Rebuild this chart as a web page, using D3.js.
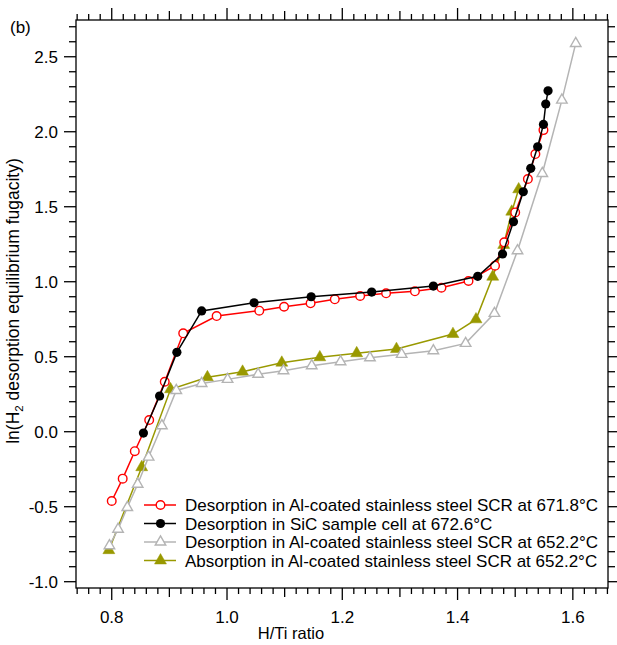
<!DOCTYPE html>
<html>
<head>
<meta charset="utf-8">
<script src="https://cdn.jsdelivr.net/npm/d3@7"></script>
<style>
  body { margin: 0; background: #fff; }
  svg { display: block; font-family: Arial, 'Liberation Sans', sans-serif; }
</style>
</head>
<body>
<script>
// H/Ti ratio vs ln(H2 fugacity)
const redX = [0.800, 0.819, 0.840, 0.865, 0.892, 0.924, 0.982, 1.056, 1.099, 1.145, 1.187,
  1.231, 1.276, 1.326, 1.372, 1.419, 1.465, 1.481, 1.500, 1.522, 1.535, 1.549];
const redY = [-0.462, -0.313, -0.130, 0.078, 0.333, 0.656, 0.771, 0.807, 0.833, 0.856, 0.883,
  0.905, 0.923, 0.936, 0.960, 1.005, 1.107, 1.263, 1.462, 1.685, 1.851, 2.011];

const blackX = [0.855, 0.883, 0.913, 0.956, 1.047, 1.146, 1.251, 1.358, 1.435, 1.478, 1.497,
  1.514, 1.527, 1.539, 1.549, 1.553, 1.557];
const blackY = [-0.009, 0.238, 0.529, 0.805, 0.860, 0.900, 0.931, 0.971, 1.036, 1.185, 1.400,
  1.600, 1.756, 1.900, 2.049, 2.185, 2.273];

const grayX = [0.796, 0.811, 0.827, 0.845, 0.864, 0.887, 0.912, 0.956, 1.001, 1.054, 1.098,
  1.147, 1.197, 1.248, 1.303, 1.358, 1.414, 1.464, 1.504, 1.547, 1.581, 1.605];
const grayY = [-0.760, -0.650, -0.505, -0.350, -0.169, 0.040, 0.275, 0.322, 0.349, 0.383, 0.407,
  0.440, 0.467, 0.493, 0.516, 0.540, 0.589, 0.789, 1.207, 1.722, 2.211, 2.589];

const oliveX = [0.795, 0.852, 0.902, 0.966, 1.027, 1.095, 1.161, 1.225, 1.294, 1.392, 1.432,
  1.461, 1.480, 1.494, 1.506];
const oliveY = [-0.790, -0.237, 0.283, 0.363, 0.400, 0.460, 0.496, 0.523, 0.551, 0.651, 0.749,
  1.033, 1.245, 1.467, 1.616];

const legendLabels = [
  'Desorption in Al-coated stainless steel SCR at 671.8°C',
  'Desorption in SiC sample cell at 672.6°C',
  'Desorption in Al-coated stainless steel SCR at 652.2°C',
  'Absorption in Al-coated stainless steel SCR at 652.2°C'
];

const xMajorTicks = [0.8, 1.0, 1.2, 1.4, 1.6];
const yMajorTicks = [-1.0, -0.5, 0.0, 0.5, 1.0, 1.5, 2.0, 2.5];

const width = 617, height = 645;
const plot = { left: 76, top: 20, right: 608, bottom: 588 };

const svg = d3.select('body').append('svg')
  .attr('width', width)
  .attr('height', height);

const x = d3.scaleLinear().domain([0.738, 1.661]).range([plot.left, plot.right]);
const y = d3.scaleLinear().domain([-1.042, 2.745]).range([plot.bottom, plot.top]);

const series = [
  { xs: oliveX, ys: oliveY, color: '#999900', marker: 'triFilled' },
  { xs: grayX, ys: grayY, color: '#b4b4b4', marker: 'triOpen' },
  { xs: redX, ys: redY, color: '#ff0000', marker: 'circleOpen' },
  { xs: blackX, ys: blackY, color: '#000000', marker: 'circleFilled' }
];
const legendOrder = [2, 3, 1, 0];

drawAxes();
drawSeries();
drawLegend();
drawLabels();

function drawAxes() {
  const g = svg.append('g').attr('stroke', '#000').attr('stroke-width', 1.3);

  // all x ticks every 0.02, longer at 0.1 and 0.2
  const xTicks = d3.range(0, 47).map((i) => 0.74 + i * 0.02).filter((v) => v <= 1.661);
  xTicks.forEach((v) => {
    const k = Math.round(v * 100);
    const len = k % 20 === 0 ? 12 : k % 10 === 0 ? 9 : 6;
    g.append('line').attr('x1', x(v)).attr('x2', x(v))
      .attr('y1', plot.bottom).attr('y2', plot.bottom + len);
    g.append('line').attr('x1', x(v)).attr('x2', x(v))
      .attr('y1', plot.top).attr('y2', plot.top - len);
  });

  const yTicks = d3.range(-10, 28).map((i) => i / 10);
  yTicks.forEach((v) => {
    const k = Math.round(v * 10);
    const len = k % 5 === 0 ? 12 : 7;
    g.append('line').attr('y1', y(v)).attr('y2', y(v))
      .attr('x1', plot.left).attr('x2', plot.left - len);
    g.append('line').attr('y1', y(v)).attr('y2', y(v))
      .attr('x1', plot.right).attr('x2', plot.right + len);
  });

  g.append('rect')
    .attr('x', plot.left).attr('y', plot.top)
    .attr('width', plot.right - plot.left)
    .attr('height', plot.bottom - plot.top)
    .attr('fill', 'none');

  svg.append('g').selectAll('text')
    .data(xMajorTicks)
    .join('text')
    .attr('x', (d) => x(d))
    .attr('y', 623)
    .attr('text-anchor', 'middle')
    .attr('font-size', 17)
    .text((d) => d.toFixed(1));

  svg.append('g').selectAll('text')
    .data(yMajorTicks)
    .join('text')
    .attr('x', 58)
    .attr('y', (d) => y(d))
    .attr('dy', '0.36em')
    .attr('text-anchor', 'end')
    .attr('font-size', 17)
    .text((d) => d.toFixed(1));
}

function addMarker(sel, type, color, cx, cy) {
  if (type === 'circleOpen') {
    sel.append('circle').attr('cx', cx).attr('cy', cy).attr('r', 4.3)
      .attr('fill', '#fff').attr('stroke', color).attr('stroke-width', 1.4);
  } else if (type === 'circleFilled') {
    sel.append('circle').attr('cx', cx).attr('cy', cy).attr('r', 4.6)
      .attr('fill', color);
  } else {
    sel.append('path')
      .attr('d', d3.symbol(d3.symbolTriangle, type === 'triOpen' ? 48 : 62)())
      .attr('transform', `translate(${cx},${cy})`)
      .attr('fill', type === 'triOpen' ? '#fff' : color)
      .attr('stroke', color)
      .attr('stroke-width', type === 'triOpen' ? 1.4 : 0.5);
  }
}

function drawSeries() {
  const line = d3.line().x((d) => x(d[0])).y((d) => y(d[1]));
  series.forEach((s) => {
    const pts = s.xs.map((v, i) => [v, s.ys[i]]);
    const g = svg.append('g');
    g.append('path')
      .attr('d', line(pts))
      .attr('fill', 'none')
      .attr('stroke', s.color)
      .attr('stroke-width', 1.5);
    pts.forEach((p) => addMarker(g, s.marker, s.color, x(p[0]), y(p[1])));
  });
}

function drawLegend() {
  const rowY = [505, 523.5, 542, 560.5];
  legendOrder.forEach((si, i) => {
    const s = series[si];
    const g = svg.append('g');
    g.append('line')
      .attr('x1', 144).attr('x2', 176)
      .attr('y1', rowY[i]).attr('y2', rowY[i])
      .attr('stroke', s.color).attr('stroke-width', 1.5);
    addMarker(g, s.marker, s.color, 160.5, rowY[i]);
    g.append('text')
      .attr('x', 185)
      .attr('y', rowY[i])
      .attr('dy', '0.36em')
      .attr('font-size', 17)
      .text(legendLabels[i]);
  });
}

function drawLabels() {
  svg.append('text')
    .attr('x', 10).attr('y', 33)
    .attr('font-size', 17)
    .text('(b)');

  svg.append('text')
    .attr('x', 291).attr('y', 639)
    .attr('text-anchor', 'middle')
    .attr('font-size', 16.5)
    .text('H/Ti ratio');

  const yl = svg.append('text')
    .attr('transform', 'translate(19,301) rotate(-90)')
    .attr('text-anchor', 'middle')
    .attr('font-size', 17.5);
  yl.append('tspan').text('ln(H');
  yl.append('tspan').attr('font-size', 11.5).attr('dy', 4).text('2');
  yl.append('tspan').attr('dy', -4).text(' desorption equilibrium fugacity)');
}
</script>
</body>
</html>
